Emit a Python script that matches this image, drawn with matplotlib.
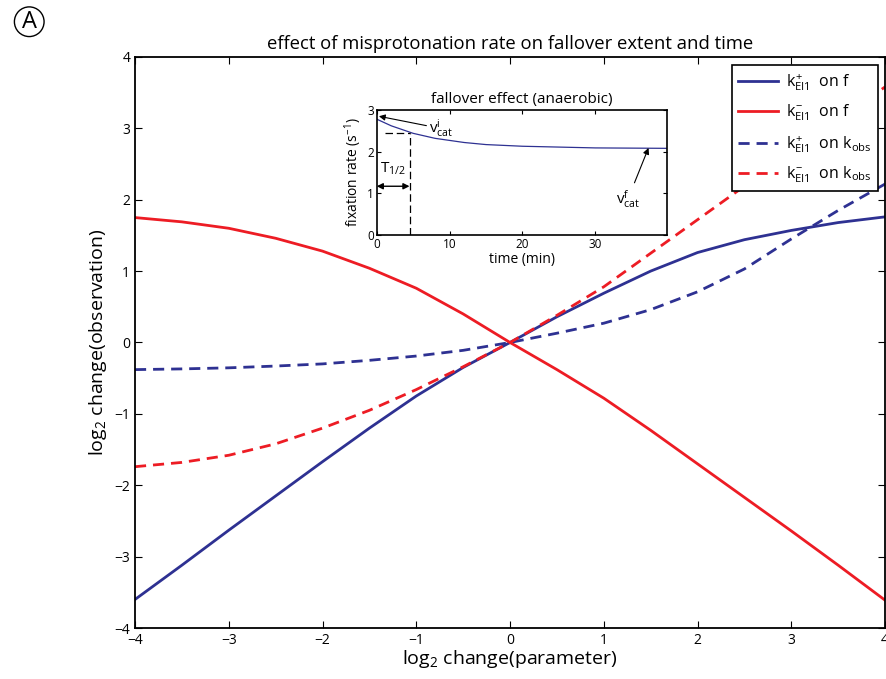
import matplotlib
matplotlib.use("Agg")
import matplotlib.pyplot as plt

plt.rcParams['font.family'] = ['Open Sans', 'DejaVu Sans']
plt.rcParams['mathtext.fontset'] = 'custom'
plt.rcParams['mathtext.rm'] = 'Open Sans'
plt.rcParams['mathtext.it'] = 'Open Sans'

# log2 change of parameter
x_param = [-4, -3.5, -3, -2.5, -2, -1.5, -1, -0.5, 0, 0.5, 1, 1.5, 2, 2.5, 3, 3.5, 4]

kplus_f = [-3.60, -3.12, -2.63, -2.15, -1.67, -1.20, -0.75, -0.35, 0.0,
           0.36, 0.69, 1.00, 1.26, 1.44, 1.57, 1.68, 1.76]
kminus_f = [1.75, 1.69, 1.60, 1.46, 1.28, 1.04, 0.76, 0.40, 0.0,
            -0.38, -0.78, -1.23, -1.70, -2.17, -2.64, -3.12, -3.61]
kplus_kobs = [-0.38, -0.37, -0.355, -0.33, -0.30, -0.25, -0.19, -0.11, 0.0,
              0.13, 0.27, 0.46, 0.71, 1.03, 1.45, 1.85, 2.22]
kminus_kobs = [-1.74, -1.68, -1.58, -1.42, -1.20, -0.95, -0.66, -0.34, 0.0,
               0.38, 0.78, 1.25, 1.72, 2.19, 2.66, 3.12, 3.58]

# inset: fixation rate over time
t_min = [0, 1, 2, 3, 4, 5, 6, 8, 10, 12, 15, 20, 25, 30, 35, 39.8]
fix_rate = [2.78, 2.70, 2.62, 2.56, 2.50, 2.44, 2.40, 2.32, 2.27, 2.22,
            2.17, 2.13, 2.11, 2.09, 2.085, 2.08]
t_half = 4.5
v_half = 2.45

blue = '#2E3192'
red = '#ED1C24'

fig = plt.figure(figsize=(8.86, 6.79), dpi=100)
ax = fig.add_axes([0.1524, 0.0751, 0.8465, 0.841])

dash = (0, (4, 2.5))
ax.plot(x_param, kplus_f, color=blue, lw=2.0, label=r'$k^{+}_{\rm EI1}$  on f')
ax.plot(x_param, kminus_f, color=red, lw=2.0, label=r'$k^{-}_{\rm EI1}$  on f')
ax.plot(x_param, kplus_kobs, color=blue, lw=2.0, ls=dash,
        label=r'$k^{+}_{\rm EI1}$  on k$_{\rm obs}$')
ax.plot(x_param, kminus_kobs, color=red, lw=2.0, ls=dash,
        label=r'$k^{-}_{\rm EI1}$  on k$_{\rm obs}$')

ax.set_xlim(-4, 4)
ax.set_ylim(-4, 4)
ax.set_xticks(range(-4, 5))
ax.set_yticks(range(-4, 5))
ax.tick_params(direction='in', top=True, right=True, labelsize=10, length=5)
for s in ax.spines.values():
    s.set_linewidth(1.3)
ax.set_title('effect of misprotonation rate on fallover extent and time',
             fontsize=13.3, pad=6)
ax.set_xlabel(r'log$_{2}$ change(parameter)', fontsize=14, labelpad=0)
ax.set_ylabel(r'log$_{2}$ change(observation)', fontsize=14, labelpad=4)

leg = ax.legend(loc='upper right', bbox_to_anchor=(0.991, 0.986), fontsize=11.5,
                handlelength=2.5, frameon=True, fancybox=False, framealpha=1,
                edgecolor='black', borderpad=0.4, labelspacing=0.6,
                handletextpad=0.5, borderaxespad=0)
leg.get_frame().set_linewidth(1.2)

# inset
ins = fig.add_axes([0.4252, 0.6539, 0.3273, 0.1841])
ins.plot(t_min, fix_rate, color=blue, lw=0.9)
ins.set_xlim(0, 39.8)
ins.set_ylim(0, 3)
ins.set_xticks([0, 10, 20, 30])
ins.set_yticks([0, 1, 2, 3])
ins.tick_params(direction='in', top=True, right=True, labelsize=8.5, length=3,
                pad=2)
for s in ins.spines.values():
    s.set_linewidth(1.2)
ins.set_title('fallover effect (anaerobic)', fontsize=11, pad=5)
ins.set_xlabel('time (min)', fontsize=10, labelpad=1)
ins.set_ylabel(r'fixation rate (s$^{-1}$)', fontsize=10, labelpad=2)

ins.plot([t_half, t_half], [0, v_half], color='black', lw=0.9, ls=(0, (6, 3)))
ins.plot([1.2, t_half], [v_half, v_half], color='black', lw=0.9, ls=(0, (6, 3)))
ins.annotate('', xy=(0, 1.17), xytext=(t_half, 1.17),
             arrowprops=dict(arrowstyle='<|-|>', color='black', lw=1.0,
                             mutation_scale=9, shrinkA=0, shrinkB=0))
ins.text(0.4, 1.5, r'T$_{1/2}$', fontsize=11)
ins.annotate(r'v$^{\rm i}_{\rm cat}$', xy=(0.3, 2.85), xytext=(7.2, 2.45),
             fontsize=11,
             arrowprops=dict(arrowstyle='-|>', color='black', lw=0.8,
                             mutation_scale=9, shrinkA=0, shrinkB=0))
ins.annotate(r'v$^{\rm f}_{\rm cat}$', xy=(37.3, 2.09), xytext=(32.8, 0.75),
             fontsize=11,
             arrowprops=dict(arrowstyle='-|>', color='black', lw=0.8,
                             mutation_scale=9, shrinkA=2, shrinkB=0))

fig.text(0.033, 0.968, 'A', fontsize=17, ha='center', va='center',
         bbox=dict(boxstyle='circle,pad=0.12', fc='white', ec='black', lw=1.0))

fig.savefig('out.png', dpi=100)
